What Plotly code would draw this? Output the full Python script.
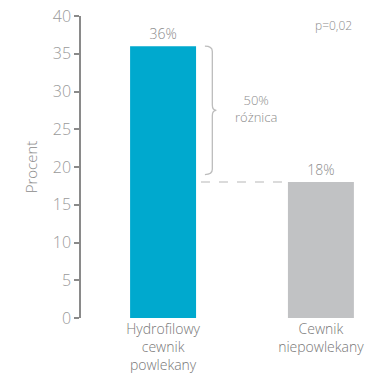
import plotly.graph_objects as go

# Data
categories = ["Hydrofilowy<br>cewnik<br>powlekany", "Cewnik<br>niepowlekany"]
values = [36, 18]
value_labels = ["36%", "18%"]
bar_colors = ["#00a9ce", "#c1c2c4"]
y_ticks = [0, 5, 10, 15, 20, 25, 30, 35, 40]

FONT = "Open Sans"
LIGHT = 300
x_pos = list(range(len(categories)))

fig = go.Figure()
fig.add_trace(go.Bar(
    x=x_pos, y=values, width=0.418,
    marker=dict(color=bar_colors, line=dict(width=0)),
    text=value_labels, textposition="outside",
    textfont=dict(family=FONT, size=14, color="#8c8c8c", weight=LIGHT),
    cliponaxis=False, hoverinfo="skip",
))

# Dashed reference line from the first bar to the second bar's level
fig.add_shape(type="line", xref="x", yref="y",
              x0=0.24, x1=0.76, y0=values[1], y1=values[1],
              line=dict(color="#cfcfcf", width=1.5, dash="dash"))

# Curly brace spanning the difference between the two bars
yt, yb = values[0], values[1] + 1.0
ym = (yt + yb) / 2
x0, x1, x2 = 0.265, 0.312, 0.338
r = 0.7
brace = (f"M {x0},{yt} Q {x1},{yt} {x1},{yt - r} "
         f"L {x1},{ym + r} Q {x1},{ym} {x2},{ym} "
         f"Q {x1},{ym} {x1},{ym - r} "
         f"L {x1},{yb + r} Q {x1},{yb} {x0},{yb}")
fig.add_shape(type="path", xref="x", yref="y", path=brace,
              line=dict(color="#bdbdbd", width=1.3))

fig.add_annotation(x=0.59, y=ym + 0.3, xref="x", yref="y",
                   text="50%<br>różnica", showarrow=False,
                   font=dict(family=FONT, size=13, color="#8c8c8c", weight=LIGHT))
fig.add_annotation(x=1.08, y=38.8, xref="x", yref="y",
                   text="p=0,02", showarrow=False,
                   font=dict(family=FONT, size=12, color="#8c8c8c", weight=LIGHT))

fig.update_layout(
    width=373, height=375,
    margin=dict(l=81, r=0, t=16, b=57),
    paper_bgcolor="white", plot_bgcolor="white",
    showlegend=False,
    font=dict(family=FONT, color="#8c8c8c"),
    xaxis=dict(
        range=[-0.52, 1.33], tickvals=x_pos, ticktext=categories,
        showline=False, showgrid=False, zeroline=False, ticks="",
        automargin=False, ticklabelstandoff=1,
        tickfont=dict(family=FONT, size=14, color="#777777", weight=LIGHT),
    ),
    yaxis=dict(
        range=[0, 40], tickvals=y_ticks, automargin=False,
        showline=True, linecolor="#8a8a8a", linewidth=1.5,
        ticks="outside", ticklen=5, tickcolor="#8a8a8a", tickwidth=1.5,
        showgrid=False, zeroline=False,
        tickfont=dict(family=FONT, size=16, color="#9a9a9a", weight=LIGHT),
        title=dict(text="Procent", standoff=12,
                   font=dict(family=FONT, size=15, color="#8c8c8c", weight=LIGHT)),
    ),
)

fig.write_html("out.html")
